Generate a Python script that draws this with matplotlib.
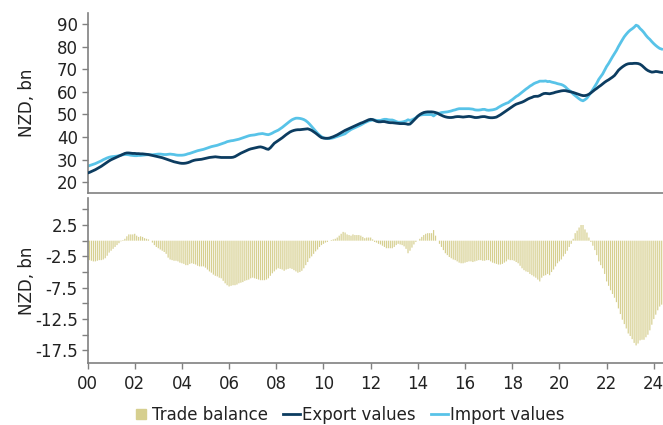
import numpy as np
import matplotlib.pyplot as plt
from matplotlib.lines import Line2D

# monthly values, Jan 2000 - May 2024 (NZD bn, annual totals)
exports = [
    24.0, 24.3, 24.7, 25.1, 25.5, 26.0, 26.5, 27.0, 27.6, 28.2, 28.8, 29.4,  # 2000
    29.9, 30.3, 30.7, 31.1, 31.5, 31.9, 32.3, 32.7, 32.9, 32.9, 32.8, 32.7,  # 2001
    32.7, 32.6, 32.6, 32.5, 32.5, 32.4, 32.3, 32.2, 32.0, 31.8, 31.6, 31.4,  # 2002
    31.2, 31.0, 30.8, 30.5, 30.2, 29.9, 29.6, 29.3, 29.0, 28.8, 28.6, 28.4,  # 2003
    28.3, 28.3, 28.4, 28.6, 28.9, 29.3, 29.6, 29.8, 29.9, 30.0, 30.1, 30.3,  # 2004
    30.5, 30.7, 30.9, 31.0, 31.1, 31.2, 31.1, 31.0, 30.9, 30.9, 30.9, 30.9,  # 2005
    30.9, 30.9, 31.0, 31.3, 31.8, 32.3, 32.8, 33.2, 33.6, 34.0, 34.4, 34.7,  # 2006
    34.9, 35.1, 35.3, 35.5, 35.6, 35.4, 35.1, 34.7, 34.5, 35.2, 36.2, 37.2,  # 2007
    37.8, 38.4, 39.0, 39.6, 40.3, 41.0, 41.6, 42.2, 42.6, 42.9, 43.1, 43.2,  # 2008
    43.2, 43.3, 43.4, 43.5, 43.6, 43.3, 42.9, 42.3, 41.7, 41.0, 40.3, 39.7,  # 2009
    39.5, 39.4, 39.4, 39.5, 39.8, 40.1, 40.5, 40.9, 41.4, 41.9, 42.4, 42.9,  # 2010
    43.3, 43.7, 44.1, 44.5, 44.9, 45.3, 45.7, 46.1, 46.4, 46.8, 47.2, 47.6,  # 2011
    47.8, 47.7, 47.3, 46.9, 46.7, 46.7, 46.8, 46.8, 46.6, 46.4, 46.3, 46.3,  # 2012
    46.2, 46.1, 46.0, 45.9, 45.9, 45.9, 45.8, 45.6, 45.7, 46.5, 47.4, 48.3,  # 2013
    49.2, 49.9, 50.4, 50.8, 51.0, 51.1, 51.1, 51.1, 51.0, 50.8, 50.5, 50.0,  # 2014
    49.6, 49.2, 48.9, 48.7, 48.6, 48.6, 48.7, 48.9, 49.0, 49.0, 48.9, 48.8,  # 2015
    48.9, 49.0, 49.1, 49.0, 48.8, 48.6, 48.6, 48.7, 48.9, 49.0, 49.0, 48.8,  # 2016
    48.6, 48.5, 48.5, 48.6, 48.8, 49.3, 49.8, 50.4, 51.0, 51.6, 52.2, 52.8,  # 2017
    53.4, 54.0, 54.5, 54.8, 55.1, 55.4, 55.8, 56.3, 56.8, 57.2, 57.5, 57.9,  # 2018
    58.0, 58.0, 58.3, 58.8, 59.2, 59.3, 59.2, 59.1, 59.3, 59.5, 59.8, 60.0,  # 2019
    60.2, 60.4, 60.5, 60.5, 60.3, 60.1, 59.9, 59.7, 59.4, 59.1, 58.8, 58.5,  # 2020
    58.3, 58.3, 58.5, 58.9, 59.5, 60.2, 60.9, 61.5, 62.2, 62.8, 63.5, 64.2,  # 2021
    64.8, 65.3, 65.9, 66.5, 67.2, 68.3, 69.5, 70.3, 71.0, 71.6, 72.1, 72.4,  # 2022
    72.5, 72.5, 72.6, 72.6, 72.5, 72.2, 71.6, 70.8, 70.0, 69.4, 69.0, 68.7,  # 2023
    68.8, 69.0, 68.9, 68.7, 68.6,                                            # 2024
]

imports = [
    27.0, 27.3, 27.6, 27.9, 28.2, 28.6, 29.0, 29.4, 29.9, 30.3, 30.7, 31.0,  # 2000
    31.2, 31.3, 31.4, 31.5, 31.7, 31.9, 32.1, 32.2, 32.2, 32.1, 31.9, 31.8,  # 2001
    31.7, 31.7, 31.8, 31.8, 31.9, 32.0, 32.1, 32.1, 32.1, 32.1, 32.2, 32.3,  # 2002
    32.4, 32.4, 32.3, 32.2, 32.2, 32.3, 32.4, 32.3, 32.2, 32.0, 31.9, 31.9,  # 2003
    31.9, 32.0, 32.2, 32.5, 32.7, 33.0, 33.3, 33.6, 33.9, 34.1, 34.3, 34.5,  # 2004
    34.8, 35.1, 35.4, 35.7, 35.9, 36.1, 36.3, 36.6, 36.9, 37.2, 37.5, 37.9,  # 2005
    38.1, 38.3, 38.4, 38.6, 38.8, 39.0, 39.3, 39.6, 39.9, 40.2, 40.5, 40.7,  # 2006
    40.8, 40.9, 41.1, 41.3, 41.4, 41.5, 41.3, 41.1, 41.0, 41.3, 41.7, 42.2,  # 2007
    42.6, 43.0, 43.6, 44.2, 44.9, 45.6, 46.3, 47.0, 47.6, 48.0, 48.3, 48.3,  # 2008
    48.2, 48.0, 47.7, 47.2, 46.5, 45.6, 44.6, 43.6, 42.6, 41.6, 40.8, 40.1,  # 2009
    39.6, 39.4, 39.3, 39.3, 39.4, 39.6, 39.9, 40.2, 40.5, 40.8, 41.1, 41.4,  # 2010
    42.1, 42.7, 43.3, 43.7, 44.1, 44.5, 44.9, 45.3, 45.8, 46.3, 46.7, 47.1,  # 2011
    47.3, 47.5, 47.5, 47.3, 47.3, 47.3, 47.6, 47.8, 47.8, 47.6, 47.5, 47.5,  # 2012
    47.2, 46.8, 46.5, 46.5, 46.6, 46.8, 47.1, 47.6, 47.3, 47.6, 48.0, 48.5,  # 2013
    49.2, 49.6, 49.8, 49.9, 49.9, 49.9, 49.9, 49.9, 49.3, 50.0, 50.5, 50.5,  # 2014
    50.8, 50.9, 51.0, 51.1, 51.3, 51.5, 51.8, 52.0, 52.3, 52.5, 52.5, 52.5,  # 2015
    52.5, 52.5, 52.5, 52.4, 52.3, 52.0, 51.9, 51.9, 52.0, 52.2, 52.2, 51.9,  # 2016
    51.8, 51.9, 52.0, 52.2, 52.5, 53.1, 53.6, 54.1, 54.5, 54.9, 55.2, 55.9,  # 2017
    56.5, 57.2, 57.9, 58.4, 59.1, 59.8, 60.5, 61.2, 61.8, 62.5, 63.0, 63.6,  # 2018
    64.0, 64.3, 64.7, 64.7, 64.7, 64.8, 64.5, 64.6, 64.3, 64.1, 63.9, 63.6,  # 2019
    63.4, 63.2, 62.8, 62.2, 61.3, 60.6, 60.0, 59.0, 58.3, 57.6, 56.9, 56.3,  # 2020
    56.0, 56.5, 57.2, 58.4, 59.7, 61.0, 62.4, 63.8, 65.5, 66.7, 67.9, 69.5,  # 2021
    71.2, 72.5, 74.0, 75.5, 76.9, 78.3, 80.0, 81.5, 83.0, 84.4, 85.5, 86.5,  # 2022
    87.3, 87.9, 88.6, 89.5, 89.1, 88.0, 87.2, 86.2, 85.0, 84.0, 83.2, 82.2,  # 2023
    81.3, 80.5, 79.8, 79.2, 78.9,                                            # 2024
]

balance = [
    -3.0, -3.1, -3.2, -3.3, -3.3, -3.2, -3.1, -3.1, -3.0, -2.8, -2.4, -1.9,  # 2000
    -1.6, -1.3, -1.0, -0.7, -0.4, -0.1, 0.1, 0.3, 0.7, 1.0, 1.0, 1.0,        # 2001
    1.1, 0.8, 0.6, 0.7, 0.6, 0.4, 0.3, 0.2, 0.0, -0.3, -0.7, -1.0,           # 2002
    -1.2, -1.4, -1.6, -1.8, -2.1, -2.7, -3.0, -3.1, -3.2, -3.2, -3.3, -3.5,  # 2003
    -3.6, -3.7, -3.9, -3.9, -3.7, -3.6, -3.7, -3.8, -4.0, -4.1, -4.1, -4.1,  # 2004
    -4.3, -4.6, -4.9, -5.1, -5.4, -5.6, -5.7, -5.9, -6.0, -6.4, -6.8, -7.1,  # 2005
    -7.3, -7.2, -7.1, -7.1, -7.0, -6.8, -6.7, -6.6, -6.4, -6.3, -6.2, -6.0,  # 2006
    -5.9, -6.0, -6.1, -6.2, -6.3, -6.3, -6.3, -6.2, -6.0, -5.6, -5.2, -4.9,  # 2007
    -4.6, -4.4, -4.5, -4.6, -4.8, -4.6, -4.5, -4.4, -4.5, -4.7, -4.9, -5.1,  # 2008
    -5.0, -4.8, -4.4, -3.9, -3.4, -2.8, -2.5, -2.1, -1.7, -1.4, -1.0, -0.7,  # 2009
    -0.5, -0.3, -0.2, 0.0, 0.1, 0.2, 0.3, 0.5, 0.8, 1.1, 1.4, 1.3,           # 2010
    1.0, 0.9, 0.8, 1.0, 0.9, 0.9, 0.9, 0.8, 0.6, 0.4, 0.5, 0.5,              # 2011
    0.5, 0.2, -0.2, -0.3, -0.5, -0.6, -0.8, -1.0, -1.2, -1.2, -1.2, -1.2,    # 2012
    -1.0, -0.7, -0.5, -0.6, -0.7, -0.9, -1.3, -2.0, -1.6, -1.1, -0.6, -0.2,  # 2013
    0.0, 0.3, 0.6, 0.9, 1.1, 1.2, 1.2, 1.2, 1.7, 0.8, 0.0, -0.5,             # 2014
    -1.0, -1.5, -2.0, -2.3, -2.6, -2.8, -3.0, -3.1, -3.3, -3.5, -3.6, -3.6,  # 2015
    -3.5, -3.4, -3.3, -3.3, -3.4, -3.3, -3.2, -3.1, -3.1, -3.2, -3.2, -3.1,  # 2016
    -3.1, -3.3, -3.5, -3.6, -3.7, -3.8, -3.8, -3.7, -3.5, -3.3, -3.0, -3.1,  # 2017
    -3.1, -3.2, -3.4, -3.6, -4.0, -4.4, -4.7, -4.9, -5.0, -5.3, -5.5, -5.7,  # 2018
    -5.9, -6.2, -6.5, -5.9, -5.6, -5.5, -5.3, -5.5, -5.0, -4.6, -4.1, -3.6,  # 2019
    -3.3, -3.0, -2.5, -2.1, -1.6, -1.0, -0.5, 0.3, 1.2, 1.6, 2.1, 2.5,       # 2020
    2.5, 1.8, 1.3, 0.5, -0.2, -0.8, -1.5, -2.3, -3.3, -3.9, -4.4, -5.3,      # 2021
    -6.5, -7.2, -7.9, -8.5, -9.1, -9.8, -10.8, -11.7, -12.6, -13.3, -14.0, -14.8,  # 2022
    -15.2, -15.7, -16.3, -16.7, -16.4, -15.9, -15.8, -15.8, -15.4, -15.0, -14.3, -13.4,  # 2023
    -12.5, -11.8, -11.1, -10.5, -10.2,                                       # 2024
]

years = np.arange(2000, 2025, 2)
year_labels = [f"{y % 100:02d}" for y in years]

t = 2000 + np.arange(len(exports)) / 12.0

c_bal = "#d6cf8f"
c_exp = "#0c3c60"
c_imp = "#58c3e8"
c_spine = "#808080"
c_text = "#222222"

plt.rcParams["font.family"] = "DejaVu Sans"
plt.rcParams["font.size"] = 12

fig = plt.figure(figsize=(6.63, 4.25), dpi=100)
ax1 = fig.add_axes([0.132, 0.545, 0.868, 0.425])
ax2 = fig.add_axes([0.132, 0.146, 0.868, 0.388])

ax1.plot(t, exports, color=c_exp, lw=2.0, zorder=3)
ax1.plot(t, imports, color=c_imp, lw=2.0, zorder=2)
ax1.set_ylim(15, 95)
ax1.set_yticks(range(20, 91, 10))
ax1.set_ylabel("NZD, bn", color=c_text, fontsize=12)

bars = ax2.bar(t, balance, width=0.6 / 12, color=c_bal, linewidth=0, align="center")
for b in bars:
    b.set_snap(False)
ax2.set_ylim(-19.5, 6.8)
ax2.set_yticks([2.5, -2.5, -7.5, -12.5, -17.5])
ax2.set_yticklabels(["2.5", "-2.5", "-7.5", "-12.5", "-17.5"])
ax2.set_yticks([5, 0, -5, -10, -15], minor=True)
ax2.set_ylabel("NZD, bn", color=c_text, fontsize=12)

for ax in (ax1, ax2):
    ax.set_xlim(2000, 2024.39)
    ax.spines["top"].set_visible(False)
    ax.spines["right"].set_visible(False)
    ax.spines["left"].set_color(c_spine)
    ax.spines["bottom"].set_color(c_spine)
    ax.spines["left"].set_linewidth(1.2)
    ax.spines["bottom"].set_linewidth(1.2)
    ax.tick_params(axis="y", which="both", length=4, width=1, color=c_spine, labelcolor=c_text, pad=3)
    ax.yaxis.set_label_coords(-0.09, 0.5)

ax1.set_xticks([])
ax2.set_xticks(years)
ax2.set_xticklabels(year_labels)
ax2.tick_params(axis="x", length=4, width=1, color=c_spine, labelcolor=c_text, pad=5)

handles = [
    Line2D([], [], marker="s", linestyle="none", markersize=7, color=c_bal),
    Line2D([], [], color=c_exp, lw=2.0),
    Line2D([], [], color=c_imp, lw=2.0),
]
fig.legend(handles, ["Trade balance", "Export values", "Import values"],
           loc="center", bbox_to_anchor=(0.526, 0.024), ncol=3, frameon=False,
           handlelength=1.0, handletextpad=0.15, columnspacing=0.9,
           fontsize=12, labelcolor=c_text)

fig.savefig("out.png", dpi=100)
